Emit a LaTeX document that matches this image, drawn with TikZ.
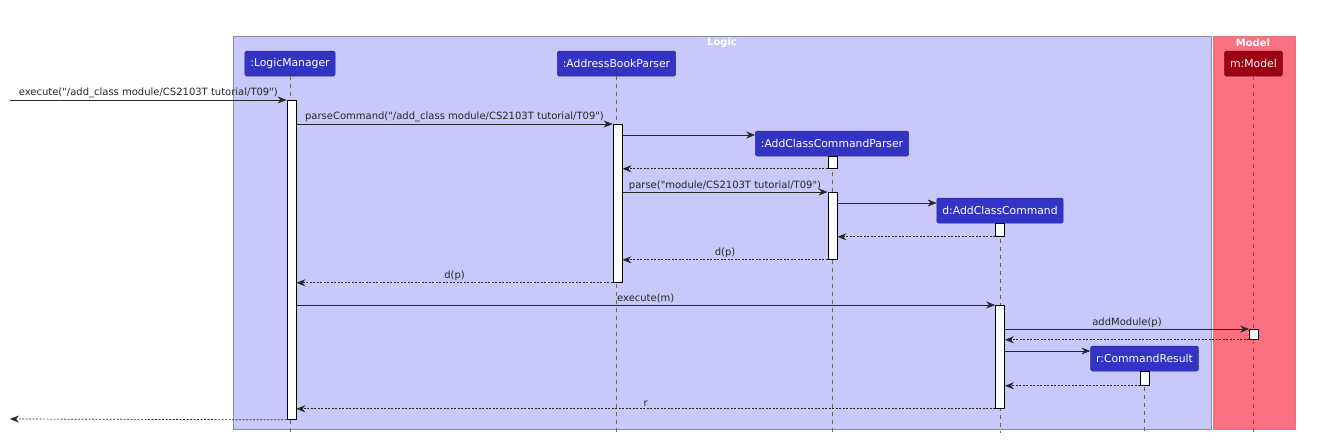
\documentclass[tikz,border=0pt]{standalone}
\usepackage{fontspec}
\setmainfont{DejaVu Sans}[Ligatures=TeXOff]
\usetikzlibrary{arrows.meta,calc}
\definecolor{logicT}{HTML}{C8C8FA}
\definecolor{logicC}{HTML}{3333C4}
\definecolor{modelT}{HTML}{F97181}
\definecolor{modelC}{HTML}{9D0012}
\definecolor{boxborder}{HTML}{8A8A9A}
\newcommand{\dq}{\symbol{34}}
\tikzset{
  part/.style={fill=#1, draw=#1!80!black, line width=0.5pt, rounded corners=1.5pt, text=white,
    font=\fontsize{10.8}{12}\selectfont, minimum height=25pt, inner xsep=5.5pt, inner ysep=0pt},
  lifeline/.style={draw=black!60, line width=0.6pt, dash pattern=on 4pt off 4pt},
  act/.style={draw=black, fill=white, line width=0.8pt, minimum width=9pt, inner sep=0pt, anchor=north},
  msg/.style={line width=0.7pt, draw=black!85, -{Stealth[length=9pt,width=7pt,inset=3pt]}},
  ret/.style={msg, dash pattern=on 2pt off 1.5pt},
  lbl/.style={midway, above, inner sep=1.5pt, font=\fontsize{10}{11}\selectfont, text=black!85},
  boxtitle/.style={font=\bfseries\fontsize{10}{11}\selectfont, text=white, inner sep=0pt}
}
\begin{document}
\begin{tikzpicture}[x=1pt,y=-1pt]
\useasboundingbox[fill=white] (0,0) rectangle (1317,442);
% boxes
\node[draw=boxborder, fill=logicT, line width=0.6pt, minimum width=978pt, minimum height=393pt, inner sep=0pt, anchor=north west] (logicbox) at (233,36) {};
\node[draw=modelT!85!gray, fill=modelT, line width=0.6pt, minimum width=82pt, minimum height=393pt, inner sep=0pt, anchor=north west] (modelbox) at (1213,36) {};
\node[boxtitle] (logict) at (722,42.5) {Logic};
\node[boxtitle] (modelt) at (1253,42.5) {Model};
% participants
\node[part=logicC] (lm) at (290,63.5) {:LogicManager};
\node[part=logicC] (abp) at (616.5,63.5) {:AddressBookParser};
\node[part=logicC] (accp) at (832,143.5) {:AddClassCommandParser};
\node[part=logicC] (acc) at (1000,210.5) {d:AddClassCommand};
\node[part=logicC] (cr) at (1144.5,358.5) {r:CommandResult};
\node[part=modelC] (mm) at (1253.5,63.5) {m:Model};
% lifeline ends
\coordinate (lmE) at (290,433);
\coordinate (abpE) at (616.5,433);
\coordinate (accpE) at (832,433);
\coordinate (accE) at (1000,433);
\coordinate (crE) at (1144.5,433);
\coordinate (mmE) at (1253.5,433);
\draw[lifeline] (lm.south) -- (lmE);
\draw[lifeline] (abp.south) -- (abpE);
\draw[lifeline] (accp.south) -- (accpE);
\draw[lifeline] (acc.south) -- (accE);
\draw[lifeline] (cr.south) -- (crE);
\draw[lifeline] (mm.south) -- (mmE);
% activations
\node[act, minimum height=319pt] (aLM) at (291.5,100) {};
\node[act, minimum height=158pt] (aABP) at (617.5,124) {};
\node[act, minimum height=12pt] (aACCP1) at (832.5,156) {};
\node[act, minimum height=67pt] (aACCP2) at (832.5,192) {};
\node[act, minimum height=13pt] (aACC1) at (1000,223) {};
\node[act, minimum height=103pt] (aACC2) at (1000,305) {};
\node[act, minimum height=10pt] (aMM) at (1254,329) {};
\node[act, minimum height=14pt] (aCR) at (1145,371) {};
% free ends
\coordinate (inS) at (10,100);
\coordinate (outE) at (10,419);
% messages
\draw[msg] (inS) -- (aLM.north west) node[lbl] {execute("/add\_class module/CS2103T tutorial/T09")};
\draw[msg] (aLM.east |- aABP.north) -- (aABP.north west) node[lbl] {parseCommand("/add\_class module/CS2103T tutorial/T09")};
\draw[msg] ($(aABP.north east)+(0,11)$) -- (accp.west |- 0,135);
\draw[ret] (aACCP1.south west) -- (aABP.east |- aACCP1.south);
\draw[msg] (aABP.east |- aACCP2.north) -- (aACCP2.north west) node[lbl] {parse("module/CS2103T tutorial/T09")};
\draw[msg] ($(aACCP2.north east)+(0,11)$) -- (acc.west |- 0,203);
\draw[ret] (aACC1.south west) -- (aACCP2.east |- aACC1.south);
\draw[ret] (aACCP2.south west) -- (aABP.east |- aACCP2.south) node[lbl] {d(p)};
\draw[ret] (aABP.south west) -- (aLM.east |- aABP.south) node[lbl] {d(p)};
\draw[msg] (aLM.east |- aACC2.north) -- (aACC2.north west) node[lbl] {execute(m)};
\draw[msg] (aACC2.east |- aMM.north) -- (aMM.north west) node[lbl] {addModule(p)};
\draw[ret] (aMM.south west) -- (aACC2.east |- aMM.south);
\draw[msg] (aACC2.east |- 0,351) -- (cr.west |- 0,351);
\draw[ret] (aCR.south west) -- (aACC2.east |- aCR.south);
\draw[ret] (aACC2.south west) -- (aLM.east |- aACC2.south) node[lbl] {r};
\draw[ret] (aLM.south west) -- (outE);
\end{tikzpicture}
\end{document}
